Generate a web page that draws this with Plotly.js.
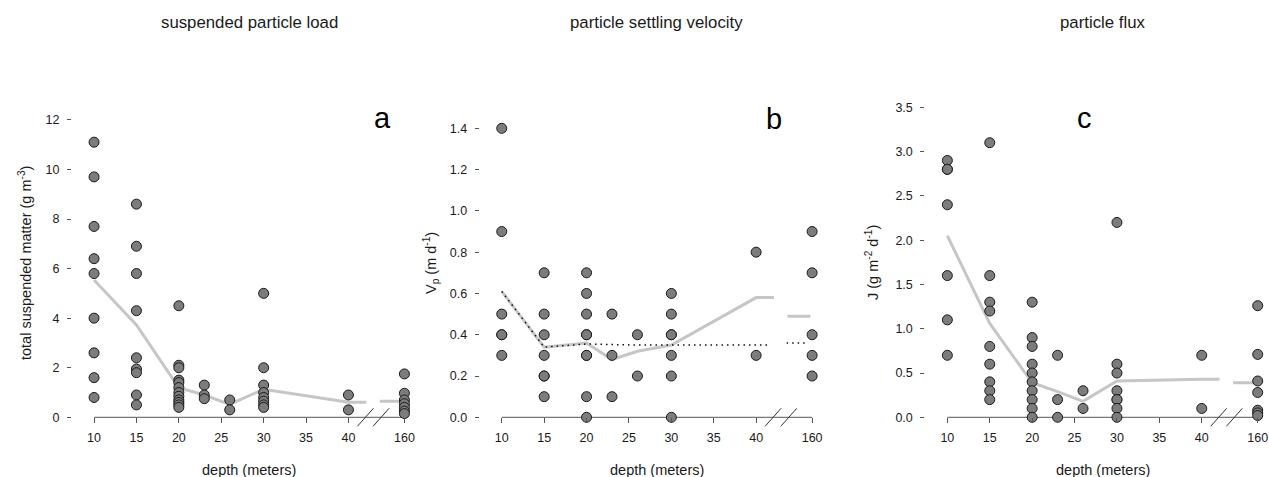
<!DOCTYPE html>
<html><head><meta charset="utf-8">
<script src="https://cdn.plot.ly/plotly-3.0.1.min.js"></script>
<style>html,body{margin:0;padding:0;background:#fff}#chart{width:1269px;height:477px}</style>
</head><body><div id="chart"></div>
<script>
// ---------- data ----------
const depths = [10, 15, 20, 23, 26, 30, 40, 160];
const tickDepths = [10, 15, 20, 25, 30, 35, 40, 160];
const tickLabels = ["10", "15", "20", "25", "30", "35", "40", "160"];

// (a) total suspended matter, g m^-3, per depth
const tsm10 = [11.1, 9.7, 7.7, 6.4, 5.8, 4.0, 2.6, 1.6, 0.8];
const tsm15 = [8.6, 6.9, 5.8, 4.3, 2.4, 1.95, 1.8, 0.9, 0.5];
const tsm20 = [4.5, 2.1, 2.0, 1.5, 1.4, 1.2, 1.0, 0.85, 0.7, 0.6, 0.5, 0.4];
const tsm23 = [1.3, 0.9, 0.75];
const tsm26 = [0.7, 0.3];
const tsm30 = [5.0, 2.0, 1.3, 1.0, 0.8, 0.65, 0.5, 0.4];
const tsm40 = [0.9, 0.3];
const tsm160 = [1.75, 0.97, 0.7, 0.55, 0.4, 0.25, 0.15];
const tsmTrend = [5.54, 3.73, 1.19, 0.9, 0.52, 1.13, 0.61, 0.65]; // per depth

// (b) settling velocity Vp, m d^-1
const vp10 = [1.4, 0.9, 0.5, 0.4, 0.4, 0.3];
const vp15 = [0.7, 0.5, 0.4, 0.3, 0.2, 0.2, 0.1];
const vp20 = [0.7, 0.6, 0.5, 0.4, 0.4, 0.3, 0.3, 0.1, 0.0];
const vp23 = [0.5, 0.3, 0.1];
const vp26 = [0.4, 0.2];
const vp30 = [0.6, 0.5, 0.4, 0.4, 0.3, 0.2, 0.0];
const vp40 = [0.8, 0.3];
const vp160 = [0.9, 0.7, 0.4, 0.3, 0.2];
const vpTrend = [0.61, 0.34, 0.36, 0.28, 0.32, 0.35, 0.58, 0.49];
const vpFit = [0.61, 0.34, 0.355, 0.352, 0.35, 0.35, 0.35, 0.36];

// (c) particle flux J, g m^-2 d^-1
const j10 = [2.9, 2.8, 2.8, 2.4, 1.6, 1.1, 0.7];
const j15 = [3.1, 1.6, 1.3, 1.2, 0.8, 0.6, 0.4, 0.3, 0.2];
const j20 = [1.3, 0.9, 0.8, 0.6, 0.5, 0.4, 0.3, 0.2, 0.1, 0.0];
const j23 = [0.7, 0.2, 0.0];
const j26 = [0.3, 0.1];
const j30 = [2.2, 0.6, 0.5, 0.3, 0.2, 0.2, 0.1, 0.0];
const j40 = [0.7, 0.1];
const j160 = [1.26, 0.71, 0.41, 0.28, 0.08, 0.05, 0.02];
const jTrend = [2.05, 1.06, 0.39, 0.29, 0.18, 0.41, 0.43, 0.39];

// ---------- broken-axis geometry ----------
const POS160 = 46.6, BREAK_A = 42.1, BREAK_B = 43.7, SEG_END = 46.4;
const SLASHES = [42.0, 43.85];
const pos = d => d === 160 ? POS160 : d;

const W = 1269, H = 477;
const px = x => x / W, py = y => 1 - y / H;

const FONT = "Liberation Sans, Arial, Helvetica, sans-serif";
const TXT = "#1a1a1a", AX = "#555555";

function flatten(groups) {
  const x = [], y = [];
  groups.forEach((g, i) => g.forEach(v => { x.push(pos(depths[i])); y.push(v); }));
  return {x, y};
}

const panels = [
  {groups: [tsm10, tsm15, tsm20, tsm23, tsm26, tsm30, tsm40, tsm160], trend: tsmTrend, fit: null,
   left: 72, yrange: [0, 12.6], yticks: [0, 2, 4, 6, 8, 10, 12], yfmt: "d",
   ytitle: "total suspended matter (g m<sup>-3</sup>)", ytx: 25,
   title: "suspended particle load", letter: "a", lx: 43.97, ly: 12.08},
  {groups: [vp10, vp15, vp20, vp23, vp26, vp30, vp40, vp160], trend: vpTrend, fit: vpFit,
   left: 479.7, yrange: [0, 1.513], yticks: [0, 0.2, 0.4, 0.6, 0.8, 1.0, 1.2, 1.4], yfmt: ".1f",
   ytitle: "V<sub>p</sub> (m d<sup>-1</sup>)", ytx: 431,
   title: "particle settling velocity", letter: "b", lx: 42.05, ly: 1.445},
  {groups: [j10, j15, j20, j23, j26, j30, j40, j160], trend: jTrend, fit: null,
   left: 925.3, yrange: [0, 3.526], yticks: [0, 0.5, 1.0, 1.5, 2.0, 2.5, 3.0, 3.5], yfmt: ".1f",
   ytitle: "J (g m<sup>-2</sup> d<sup>-1</sup>)", ytx: 872,
   title: "particle flux", letter: "c", lx: 26.12, ly: 3.38}
];

const XR = [7.4, 47.2], PLOTW = 337.5;
const TOP = 105, BOT = 417.3;

const traces = [], shapes = [], annotations = [];
const layout = {
  width: W, height: H, margin: {l: 0, r: 0, t: 0, b: 0},
  paper_bgcolor: "#fff", plot_bgcolor: "#fff", showlegend: false,
  font: {family: FONT, color: TXT, size: 12}
};

panels.forEach((p, k) => {
  const n = k === 0 ? "" : String(k + 1);
  const xa = "x" + n, ya = "y" + n;
  layout["xaxis" + n] = {
    domain: [px(p.left), px(p.left + PLOTW)], range: XR, anchor: ya,
    tickvals: tickDepths.map(pos), ticktext: tickLabels,
    ticks: "outside", ticklen: 5, tickwidth: 1, tickcolor: AX,
    tickfont: {size: 12.5, color: TXT}, ticklabelstandoff: 4,
    showline: false, showgrid: false, zeroline: false, fixedrange: true
  };
  layout["yaxis" + n] = {
    domain: [py(BOT), py(TOP)], range: p.yrange, anchor: xa,
    tickvals: p.yticks, tickformat: p.yfmt,
    ticks: "outside", ticklen: 4, tickwidth: 1, tickcolor: AX,
    tickfont: {size: 12.5, color: TXT}, ticklabelstandoff: 5,
    showline: false, showgrid: false, zeroline: false, fixedrange: true
  };

  // trend (grey) line: main part up to the break, then separate piece at 160
  const nMain = depths.length - 1;
  const tx = depths.slice(0, nMain).map(pos).concat([BREAK_A]);
  const ty = p.trend.slice(0, nMain).concat([p.trend[nMain - 1]]);
  const greyLine = {color: "#c6c6c6", width: 3};
  traces.push({type: "scatter", mode: "lines", x: tx, y: ty, xaxis: xa, yaxis: ya, line: greyLine, hoverinfo: "skip"});
  traces.push({type: "scatter", mode: "lines", x: [BREAK_B, SEG_END], y: [p.trend[nMain], p.trend[nMain]],
    xaxis: xa, yaxis: ya, line: greyLine, hoverinfo: "skip"});

  if (p.fit) {
    const fx = depths.slice(0, nMain).map(pos).concat([BREAK_A - 0.4]);
    const fy = p.fit.slice(0, nMain).concat([p.fit[nMain - 1]]);
    const dotLine = {color: "#111", width: 1.5, dash: "1.5px,4px"};
    traces.push({type: "scatter", mode: "lines", x: fx, y: fy, xaxis: xa, yaxis: ya, line: dotLine, hoverinfo: "skip"});
    traces.push({type: "scatter", mode: "lines", x: [BREAK_B - 0.1, SEG_END - 0.2], y: [p.fit[nMain], p.fit[nMain]],
      xaxis: xa, yaxis: ya, line: dotLine, hoverinfo: "skip"});
  }

  const pts = flatten(p.groups);
  traces.push({type: "scatter", mode: "markers", x: pts.x, y: pts.y, xaxis: xa, yaxis: ya,
    cliponaxis: false,
    marker: {size: 10, color: "#7c7c7c", line: {color: "#1a1a1a", width: 1}}});

  // x axis line from 10 to 160 and break slashes (paper y so they are not clipped)
  shapes.push({type: "line", xref: xa, yref: "paper", x0: pos(tickDepths[0]), x1: pos(tickDepths[tickDepths.length - 1]),
    y0: py(BOT), y1: py(BOT), line: {color: AX, width: 1}, layer: "below"});
  SLASHES.forEach(s => shapes.push({type: "line", xref: xa, yref: "paper",
    xsizemode: "pixel", xanchor: s, x0: -8, x1: 8,
    ysizemode: "pixel", yanchor: py(BOT), y0: -9, y1: 9,
    line: {color: "#333", width: 1}, layer: "above"}));

  const cx = p.left + (22.05 + (POS160 - 10) * 8.48 / 2);
  annotations.push({xref: "paper", yref: "paper", x: px(cx), y: py(23), text: p.title, showarrow: false,
    xanchor: "center", yanchor: "middle", font: {size: 16.8, color: TXT}});
  annotations.push({xref: "paper", yref: "paper", x: px(cx), y: py(470), text: "depth (meters)", showarrow: false,
    xanchor: "center", yanchor: "middle", font: {size: 14.5, color: TXT}});
  annotations.push({xref: "paper", yref: "paper", x: px(p.ytx), y: py(263), text: p.ytitle, showarrow: false,
    textangle: -90, xanchor: "center", yanchor: "middle", font: {size: 14.5, color: TXT}});
  annotations.push({xref: xa, yref: ya, x: p.lx, y: p.ly, text: p.letter, showarrow: false,
    xanchor: "center", yanchor: "middle", font: {size: 29, color: "#000"}});
});

layout.shapes = shapes;
layout.annotations = annotations;

Plotly.newPlot("chart", traces, layout, {displayModeBar: false, staticPlot: true});
</script>
</body></html>
